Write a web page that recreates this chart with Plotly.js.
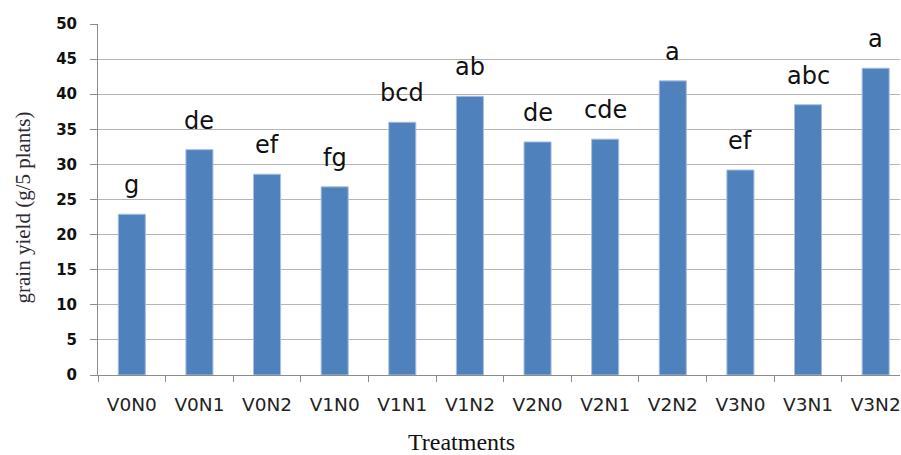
<!DOCTYPE html>
<html>
<head>
<meta charset="utf-8">
<script src="https://cdn.plot.ly/plotly-3.0.1.min.js"></script>
<style>html,body{margin:0;padding:0;background:#fff;overflow:hidden;}</style>
</head>
<body>
<div id="chart" style="width:901px;height:455px;"></div>
<script>
const treatments = ["V0N0","V0N1","V0N2","V1N0","V1N1","V1N2","V2N0","V2N1","V2N2","V3N0","V3N1","V3N2"];
const grainYield = [22.9, 32.1, 28.6, 26.8, 36.0, 39.7, 33.2, 33.6, 41.9, 29.2, 38.5, 43.7];
const letters = ["g","de","ef","fg","bcd","ab","de","cde","a","ef","abc","a"];
const yTicks = [0,5,10,15,20,25,30,35,40,45,50];

const trace = {
  type: 'bar',
  x: treatments,
  y: grainYield,
  marker: {color: '#4f81bd', line: {color: '#a9bfdc', width: 1}},
  hoverinfo: 'x+y'
};

const annotations = treatments.map((t, i) => ({
  x: t, y: grainYield[i], xref: 'x', yref: 'y',
  text: letters[i], showarrow: false,
  yanchor: 'bottom', yshift: 13,
  font: {family: 'DejaVu Sans', size: 24, color: '#111'}
}));

const plotLeft = 98, plotRight = 900;
annotations.push({
  xref: 'paper', yref: 'paper',
  x: (461 - plotLeft) / (plotRight - plotLeft), y: 0,
  yanchor: 'middle', xanchor: 'center', yshift: -67,
  text: 'Treatments', showarrow: false,
  font: {family: 'Liberation Serif', size: 24, color: '#111'}
});
annotations.push({
  xref: 'paper', yref: 'paper',
  x: 0, xshift: -76, y: 0.5, yshift: -8,
  xanchor: 'center', yanchor: 'middle', textangle: -90,
  text: 'grain yield (g/5 plants)', showarrow: false,
  font: {family: 'Liberation Serif', size: 21, color: '#2e2a33'}
});

const layout = {
  width: 901, height: 455,
  margin: {l: 98, r: 1, t: 24, b: 80},
  paper_bgcolor: '#fff', plot_bgcolor: '#fff',
  showlegend: false,
  bargap: 0.6,
  xaxis: {
    type: 'category',
    range: [-0.5, 11.36],
    tickson: 'boundaries',
    ticks: 'outside', ticklen: 6, tickcolor: '#8c8c8c',
    showline: true, linecolor: '#8c8c8c', linewidth: 1,
    showgrid: false, zeroline: false,
    ticklabelstandoff: 13,
    tickfont: {family: 'DejaVu Sans', size: 18.5, color: '#222'}
  },
  yaxis: {
    range: [0, 50],
    tickvals: yTicks,
    ticktext: yTicks.map(String),
    ticks: 'outside', ticklen: 7, tickcolor: '#8c8c8c',
    showline: true, linecolor: '#8c8c8c', linewidth: 1,
    showgrid: true, gridcolor: '#b4b4b4', gridwidth: 1,
    zeroline: false,
    ticklabelstandoff: 10,
    tickfont: {family: 'DejaVu Sans', size: 15, color: '#111', weight: 'bold'}
  },
  annotations: annotations
};

Plotly.newPlot('chart', [trace], layout, {displayModeBar: false, staticPlot: true});
</script>
</body>
</html>
